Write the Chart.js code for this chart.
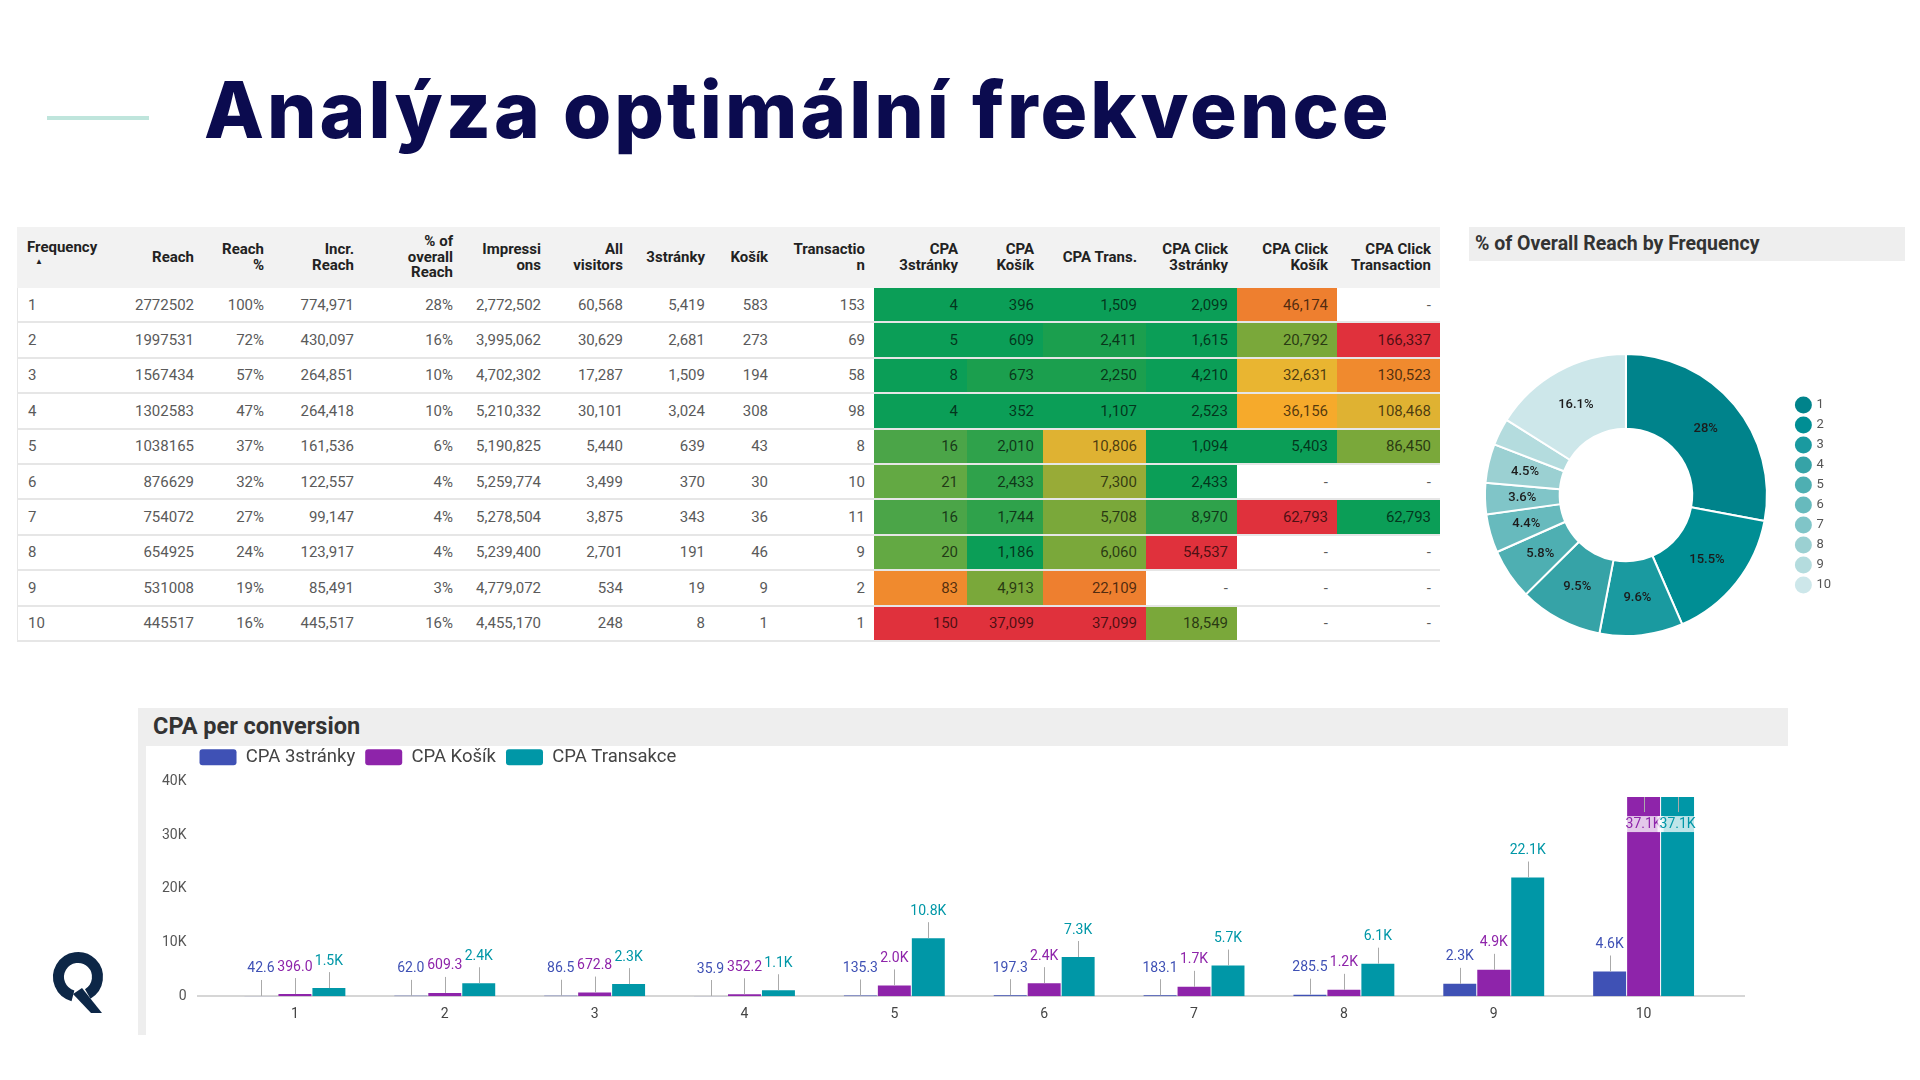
<!DOCTYPE html>
<html><head><meta charset="utf-8">
<script src="https://cdn.jsdelivr.net/npm/chart.js@4.4.0/dist/chart.umd.min.js"></script>
<style>
html,body{margin:0;padding:0;background:#fff;}
body{width:1920px;height:1080px;position:relative;overflow:hidden;font-family:Roboto,sans-serif;}
.title{position:absolute;left:204px;top:71px;font-family:Inter,sans-serif;font-weight:800;font-size:78px;line-height:78px;color:#0b0b4f;white-space:nowrap;letter-spacing:3px;}
.accent{position:absolute;left:47px;top:116px;width:102px;height:4px;background:#bfe5dc;}
#tbl{position:absolute;left:17px;top:227px;width:1423px;border-collapse:separate;border-spacing:0;table-layout:fixed;}
#tbl th{background:#f2f2f2;height:61px;font-weight:700;font-size:15px;line-height:15.5px;color:#222;text-align:right;padding:0 9px 0 4px;white-space:pre;vertical-align:middle;overflow:visible;}
#tbl th.first{text-align:left;padding-left:10px;vertical-align:top;padding-top:13px;height:48px;}
#tbl th .arrow{display:inline-block;font-size:8px;padding-left:8px;line-height:12px;vertical-align:top;}
#tbl td{height:33.4px;border-bottom:2px solid #e6e6e6;font-size:15px;color:#5a5a5a;text-align:right;padding:0 9px 0 4px;white-space:nowrap;}
#tbl td.first{text-align:left;padding-left:10px;border-left:1px solid #e6e6e6;}
#tbl td.heat{color:rgba(0,0,0,0.68);}
.phead{position:absolute;background:#eeeeee;color:#333;font-weight:700;white-space:nowrap;box-sizing:border-box;}
#donutHead{left:1469px;top:227px;width:436px;height:34px;line-height:33px;font-size:19.5px;padding-left:6px;}
#barHead{left:138px;top:708px;width:1650px;height:38px;line-height:36px;font-size:23.5px;padding-left:15px;}
#barStrip{position:absolute;left:138px;top:746px;width:8px;height:289px;background:#eeeeee;}
#barWrap{position:absolute;left:146px;top:738px;width:1642px;height:302px;}
#donutWrap{position:absolute;left:1462px;top:353px;width:379px;height:284px;}
#logo{position:absolute;left:45px;top:945px;}
</style>
</head><body>
<div class="accent"></div>
<div class="title">Analýza optimální frekvence</div>
<table id="tbl"><colgroup id="cols"></colgroup><thead><tr id="hrow"></tr></thead><tbody id="tbody"></tbody></table>
<div class="phead" id="donutHead">% of Overall Reach by Frequency</div>
<div id="donutWrap"><canvas id="donut"></canvas></div>
<div class="phead" id="barHead">CPA per conversion</div>
<div id="barStrip"></div>
<div id="barWrap"><canvas id="bar"></canvas></div>
<svg id="logo" width="70" height="75" viewBox="0 0 70 75">
  <path d="M27.95 50.84 A19.5 19.5 0 1 1 42.75 48.89" fill="none" stroke="#0d2747" stroke-width="11"/>
  <path d="M28 49 L37 43 L57 68 L46 68 Z" fill="#0d2747"/>
</svg>
<script>
// ---------- data ----------
const frequency = [1,2,3,4,5,6,7,8,9,10];
const reach = [2772502,1997531,1567434,1302583,1038165,876629,754072,654925,531008,445517];
const reachPct = [100,72,57,47,37,32,27,24,19,16];
const incrReach = [774971,430097,264851,264418,161536,122557,99147,123917,85491,445517];
const overallReachPct = [28,16,10,10,6,4,4,4,3,16];
const impressions = [2772502,3995062,4702302,5210332,5190825,5259774,5278504,5239400,4779072,4455170];
const allVisitors = [60568,30629,17287,30101,5440,3499,3875,2701,534,248];
const stranky3 = [5419,2681,1509,3024,639,370,343,191,19,8];
const kosik = [583,273,194,308,43,30,36,46,9,1];
const transactions = [153,69,58,98,8,10,11,9,2,1];
const cpa3strankyTable = [4,5,8,4,16,21,16,20,83,150];
const cpaKosik = [396.0,609.3,672.8,352.2,2010,2433,1744,1186,4913,37099];
const cpaTrans = [1509,2411,2250,1107,10806,7300,5708,6060,22109,37099];
const cpaClick3 = [2099,1615,4210,2523,1094,2433,8970,54537,null,18549];
const cpaClickKosik = [46174,20792,32631,36156,5403,null,62793,null,null,null];
const cpaClickTrans = [null,166337,130523,108468,86450,null,62793,null,null,null];
const cpa3strankyChart = [42.6,62.0,86.5,35.9,135.3,197.3,183.1,285.5,2300,4600];
const barSeriesNames = ['CPA 3stránky','CPA Košík','CPA Transakce'];
const yTickValues = [0,10000,20000,30000,40000];
const headers = ['Frequency','Reach','Reach\n%','Incr.\nReach','% of\noverall\nReach','Impressi\nons','All\nvisitors','3stránky','Košík','Transactio\nn','CPA\n3stránky','CPA\nKošík','CPA Trans.','CPA Click\n3stránky','CPA Click\nKošík','CPA Click\nTransaction'];

// ---------- styles ----------
const colWidths = [113,73,70,90,99,88,82,82,63,97,93,76,103,91,100,103];
const HEAT = {G0:'#0b9e57',G1:'#1b9f4e',G2:'#2fa24b',G3:'#4ba548',G4:'#63a943',G5:'#7aa83a',Y0:'#98ab37',Y1:'#dfb232',Y2:'#e9b531',Y3:'#f6aa2b',O1:'#f08a2e',O2:'#ee7f2f',R:'#e0313c',W:null};
const heatStyle = {
  10:['G0','G0','G0','G0','G3','G4','G3','G4','O1','R'],
  11:['G0','G0','G1','G0','G2','G2','G2','G0','G5','R'],
  12:['G0','G1','G1','G0','Y1','Y0','G5','G5','O2','R'],
  13:['G0','G0','G0','G0','G0','G0','G2','R','W','G5'],
  14:['O2','G5','Y2','Y3','G0','W','R','W','W','W'],
  15:['W','R','O1','Y1','G5','W','G0','W','W','W']
};
const barColors = ['#3f51b5','#8e24aa','#0097a7'];
const donutColors = ['#00838b','#008e94','#1a9aa0','#36a3a7','#4eafb2','#67babd','#80c5c8','#9bd0d2','#b4dcde','#cde7ea'];

// ---------- table ----------
const num = v => v==null ? '-' : Math.round(v).toLocaleString('en-US');
const columns = [
  [frequency, v=>String(v)], [reach, v=>String(v)], [reachPct, v=>v+'%'], [incrReach, num],
  [overallReachPct, v=>v+'%'], [impressions, num], [allVisitors, num], [stranky3, num], [kosik, num],
  [transactions, num], [cpa3strankyTable, num], [cpaKosik, num], [cpaTrans, num],
  [cpaClick3, num], [cpaClickKosik, num], [cpaClickTrans, num]
];
const cg = document.getElementById('cols'), hr = document.getElementById('hrow'), tb = document.getElementById('tbody');
colWidths.forEach(w=>{const c=document.createElement('col'); c.style.width=w+'px'; cg.appendChild(c);});
headers.forEach((h,i)=>{
  const th=document.createElement('th');
  if(i===0){th.className='first'; th.innerHTML=h+'<br><span class="arrow">▲</span>';}
  else th.textContent=h;
  hr.appendChild(th);
});
frequency.forEach((f,r)=>{
  const tr=document.createElement('tr');
  columns.forEach(([arr,fmt],c)=>{
    const td=document.createElement('td');
    td.textContent=fmt(arr[r]);
    if(c===0) td.className='first';
    if(heatStyle[c]){const col=HEAT[heatStyle[c][r]]; if(col){td.style.background=col; td.className='heat';}}
    tr.appendChild(td);
  });
  tb.appendChild(tr);
});

// ---------- donut ----------
const donutLabels = {
  id:'donutLabels',
  afterDatasetsDraw(chart){
    const {ctx}=chart; const meta=chart.getDatasetMeta(0);
    const data=chart.data.datasets[0].data; const total=data.reduce((a,b)=>a+b,0);
    ctx.save(); ctx.font='500 13px Roboto'; ctx.fillStyle='#1c1c1c'; ctx.textAlign='center'; ctx.textBaseline='middle';
    meta.data.forEach((arc,i)=>{
      const pct=data[i]/total*100;
      if(pct<3.3) return;
      const p=arc.tooltipPosition();
      ctx.fillText((+pct.toFixed(1))+'%', p.x, p.y);
    });
    ctx.restore();
  }
};
new Chart(document.getElementById('donut'),{
  type:'doughnut',
  data:{labels:frequency.map(String),datasets:[{data:incrReach,backgroundColor:donutColors,borderColor:'#fff',borderWidth:2,hoverBorderWidth:2}]},
  options:{responsive:true,maintainAspectRatio:false,animation:false,cutout:'47%',
    layout:{padding:0},
    plugins:{tooltip:{enabled:false},
      legend:{position:'right',labels:{usePointStyle:true,pointStyle:'circle',boxWidth:13,boxHeight:12,padding:7,color:'#555',font:{family:'Roboto',size:13},
        generateLabels:(chart)=>Chart.overrides.doughnut.plugins.legend.labels.generateLabels(chart).map(l=>({...l,lineWidth:0}))}}}
  },
  plugins:[donutLabels]
});

// ---------- bar ----------
const fmtK = v => v>=1000 ? (v/1000).toFixed(1)+'K' : v.toFixed(1);
const barLabels = {
  id:'barLabels',
  afterDatasetsDraw(chart){
    const {ctx,chartArea}=chart;
    ctx.save(); ctx.font='14px Roboto'; ctx.textAlign='center'; ctx.textBaseline='middle';
    chart.data.datasets.forEach((ds,di)=>{
      chart.getDatasetMeta(di).data.forEach((bar,i)=>{
        const txt=fmtK(ds.data[i].y); const x=bar.x, top=bar.y;
        let l1,l2,ly;
        if(top-36<chartArea.top){l1=top;l2=top+15;ly=top+27;} else {l1=top-16;l2=top;ly=top-27;}
        ctx.strokeStyle='#aaaaaa'; ctx.lineWidth=1;
        ctx.beginPath(); ctx.moveTo(Math.round(x)+0.5,l1); ctx.lineTo(Math.round(x)+0.5,l2); ctx.stroke();
        const w=ctx.measureText(txt).width+4;
        ctx.fillStyle='rgba(255,255,255,0.75)'; ctx.fillRect(x-w/2,ly-8,w,16);
        ctx.fillStyle=ds.backgroundColor; ctx.fillText(txt,x,ly);
      });
    });
    ctx.restore();
  }
};
const legendGap = {
  id:'legendGap',
  beforeInit(chart){
    const fit=chart.legend.fit;
    chart.legend.fit=function(){ fit.call(this); this.height+=5; };
  },
  afterLayout(chart){ chart.legend.left-=8; chart.legend.right-=8; }
};
const barSeries = [cpa3strankyChart, cpaKosik, cpaTrans];
new Chart(document.getElementById('bar'),{
  type:'bar',
  data:{datasets:barSeries.map((s,k)=>({label:barSeriesNames[k],data:frequency.map((f,i)=>({x:f,y:s[i]})),backgroundColor:barColors[k],categoryPercentage:0.68,barPercentage:0.97}))},
  options:{responsive:true,maintainAspectRatio:false,animation:false,
    layout:{padding:{left:5,right:44,top:0,bottom:7}},
    plugins:{tooltip:{enabled:false},
      legend:{position:'top',align:'start',fullSize:false,labels:{boxWidth:37,boxHeight:16,padding:10,useBorderRadius:true,borderRadius:3,color:'#444',font:{family:'Roboto',size:18.5}}}},
    scales:{
      x:{type:'linear',offset:false,min:0.35,max:10.67,grid:{display:false,drawTicks:false},border:{display:true,color:'#d6d6d6',width:2},
         ticks:{stepSize:1,includeBounds:false,maxTicksLimit:20,autoSkip:false,padding:10,color:'#444',font:{family:'Roboto',size:14}}},
      y:{min:0,max:40000,afterBuildTicks:(s)=>{s.ticks=yTickValues.map(v=>({value:v}));},grid:{display:false,drawTicks:false},border:{display:false},
         ticks:{padding:11,color:'#555',font:{family:'Roboto',size:14},callback:v=>v===0?'0':(v/1000)+'K'}}
    }
  },
  plugins:[barLabels, legendGap]
});
</script>
</body></html>
